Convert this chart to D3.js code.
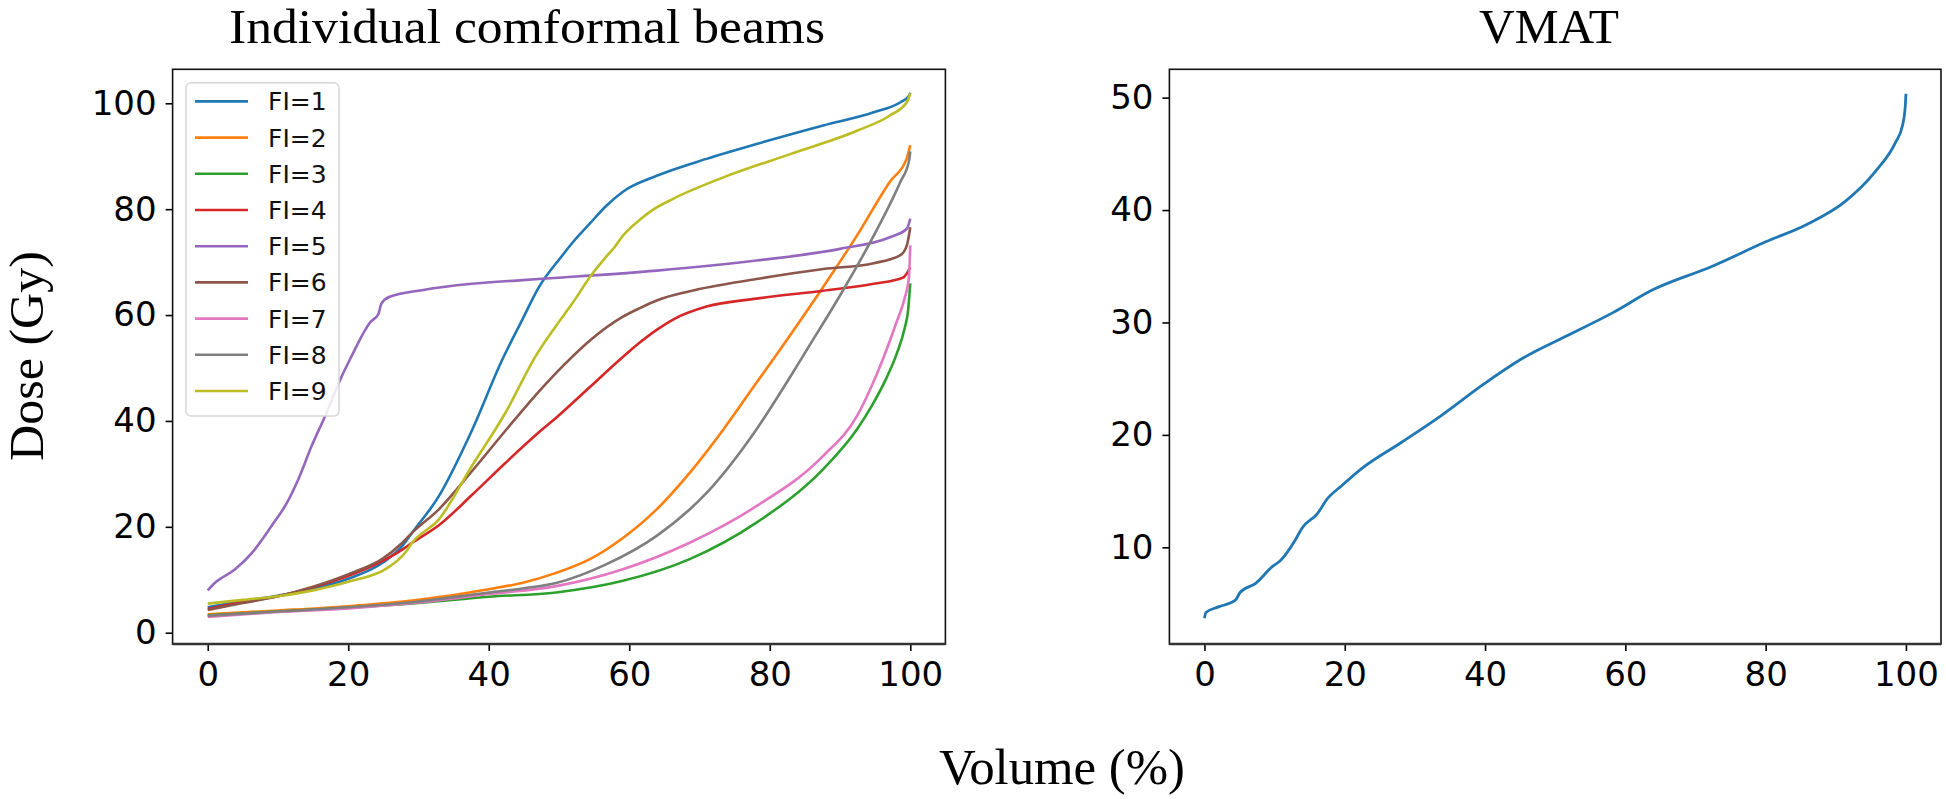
<!DOCTYPE html>
<html>
<head>
<meta charset="utf-8">
<script src="https://cdn.jsdelivr.net/npm/d3@7"></script>
<style>
  html, body { margin: 0; padding: 0; background: #fff; }
  svg { display: block; }
</style>
</head>
<body>
<script>
// ---------------- DATA ----------------
const seriesNames = ["FI=1","FI=2","FI=3","FI=4","FI=5","FI=6","FI=7","FI=8","FI=9"];
const xTicks = [0,20,40,60,80,100];
const yTicksLeft = [0,20,40,60,80,100];
const yTicksRight = [10,20,30,40,50];

// [volume %, dose Gy]
const fi1 = [[0,4.8],[5,6.0],[10,7.0],[15,8.3],[20,10.2],[25,13.3],[27.7,16.4],[29.1,18.9],[32.9,25.8],[37.6,38.2],[41.9,51.5],[44.8,59.2],[47.1,65.2],[50.5,71.3],[52,73.8],[54.4,77.3],[56.7,80.6],[59.1,83.3],[63.9,86.3],[71,89.5],[78.1,92.3],[87.6,95.8],[94.8,98.3],[98.6,100.2],[99.8,101.4],[100,102]];
const fi2 = [[0,3.5],[10,4.2],[20,5.0],[30,6.2],[40,8.2],[45,9.5],[49.6,11.3],[54.4,13.9],[59.1,17.9],[63.9,23.3],[68.6,30.2],[73.4,38.4],[78.1,47.2],[81,52.6],[87.6,65.3],[92.4,75],[97.1,85.2],[99.5,89.6],[100,92.1]];
const fi3 = [[0,3.3],[10,4.0],[20,4.7],[30,5.6],[40,6.8],[49.6,7.6],[59.1,9.8],[68.6,13.9],[78.1,20.8],[87.6,30.9],[92.4,38.4],[94.5,42.8],[96.5,47.8],[98.1,52.8],[99.2,57.5],[99.7,61],[100,66]];
const fi4 = [[0,4.5],[5,5.8],[10,6.9],[15,8.6],[20.5,11.0],[24.8,13.5],[27.7,15.7],[29.1,17.0],[32.9,20.3],[37.6,26.0],[42.4,32.1],[47.1,37.8],[49.6,40.6],[54.4,46.4],[58.6,51.5],[61.5,54.8],[63.9,57.2],[66.3,59.2],[71,61.6],[78.1,63.1],[87.6,64.6],[94.8,65.9],[99,67.1],[100,69]];
const fi5 = [[0,8.0],[1,9.4],[3.9,12.0],[6.3,15.1],[9.1,20.2],[11.3,24.6],[12.9,29],[14.8,35.3],[16.7,40.9],[19.1,48.5],[20.5,52.3],[22.2,56.7],[23.1,58.6],[24.3,60.2],[24.7,62.1],[25.8,63.4],[30.5,64.7],[37.6,65.9],[44.8,66.6],[50.5,67.1],[63.9,68.4],[78.1,70.3],[90,72.5],[97.1,74.7],[99.5,76.3],[100,78.2]];
const fi6 = [[0,4.3],[5,5.6],[10,6.9],[15,8.7],[20.5,11.3],[24.8,13.9],[27.7,17.0],[29.1,18.9],[32.9,23.3],[37.6,30.5],[42.4,38.2],[47.1,45.5],[50.5,50.3],[54.4,55.2],[59.1,59.7],[61.5,61.3],[64,62.8],[68.6,64.5],[78.1,66.8],[87.6,68.7],[94.8,69.8],[98.6,71.3],[99.5,73.1],[100,76.6]];
const fi7 = [[0,3.0],[10,3.9],[20,4.6],[30,5.7],[40,7.3],[49.6,8.8],[59.1,12.0],[68.6,17.0],[78.1,23.9],[87.6,33.4],[92.4,40.9],[94.3,46.0],[96.2,52.0],[98,58.5],[99.2,63.2],[99.8,67],[100,73.2]];
const fi8 = [[0,3.2],[10,4.0],[20,4.8],[30,5.9],[40,7.6],[45,8.4],[49.6,9.4],[56.7,12.9],[63.9,18.3],[71,26.4],[78.1,38.4],[82.9,48.3],[85.3,53.5],[90,63.7],[94.8,75],[98.6,85.2],[99.8,89],[100,90.9]];
const fi9 = [[0,5.5],[5,6.2],[10,6.9],[15,8.0],[20.5,9.8],[25.3,12.0],[28.1,15.1],[29.1,17.0],[32.9,21.4],[37.6,31.5],[42.4,41.6],[46.7,52.3],[49.6,58],[52,62.4],[54.4,67.2],[56.7,71.0],[57.9,72.8],[59.1,75.0],[61.5,78.0],[63.5,80.0],[66.3,82.0],[73.4,86],[82.9,90.4],[92.4,94.8],[97.1,97.7],[99.5,100.2],[100,101.9]];
const vmat = [[0,3.7],[0.2,4.2],[2,4.7],[4.4,5.3],[5.1,6.0],[7.3,6.8],[9.7,8.3],[10.8,8.8],[12.9,10.6],[13.9,11.7],[16.1,13.0],[17.5,14.3],[19.6,15.5],[22.4,17.0],[28,19.3],[33.7,21.7],[40,24.6],[45.6,26.9],[51.3,28.7],[58.3,30.9],[63.9,32.9],[72.4,35.0],[80.1,37.2],[85.8,38.7],[91.4,40.8],[95.6,43.4],[98.5,46.0],[99.5,47.5],[99.9,49.2],[100,50.35]];

const colors = ["#1f77b4","#ff7f0e","#2ca02c","#d62728","#9467bd","#8c564b","#e377c2","#7f7f7f","#bcbd22"];
const allSeries = [fi1,fi2,fi3,fi4,fi5,fi6,fi7,fi8,fi9];

// ---------------- LAYOUT ----------------
const W = 1946, H = 799;
const svg = d3.select("body").append("svg").attr("width", W).attr("height", H);

const L = {x0:172.6, x1:945.4, y0:69.3, y1:644};
const R = {x0:1169.4, x1:1941, y0:69.3, y1:644};

const xL = d3.scaleLinear().domain([-5,105]).range([L.x0, L.x1]);
const yL = d3.scaleLinear().domain([-2.13,106.42]).range([L.y1, L.y0]);
const xR = d3.scaleLinear().domain([-5,105]).range([R.x0, R.x1]);
const yR = d3.scaleLinear().domain([1.40,52.52]).range([R.y1, R.y0]);

const tickFont = "'DejaVu Sans', sans-serif";
const serif = "'Liberation Serif', 'Times New Roman', serif";

function drawAxes(box, xs, ys, yt) {
  const gx = svg.append("g").attr("transform", `translate(0,${box.y1})`)
    .call(d3.axisBottom(xs).tickValues(xTicks).tickSize(7).tickPadding(11).tickFormat(d3.format("d")));
  const gy = svg.append("g").attr("transform", `translate(${box.x0},0)`)
    .call(d3.axisLeft(ys).tickValues(yt).tickSize(7).tickPadding(9).tickFormat(d3.format("d")));
  [gx, gy].forEach(g => {
    g.select(".domain").remove();
    g.selectAll(".tick line").attr("stroke", "#000").attr("stroke-width", 1.6);
    g.selectAll(".tick text").attr("fill", "#000").style("font-family", tickFont).style("font-size", "34px");
  });
}

function drawFrame(box) {
  svg.append("rect").attr("x", box.x0).attr("y", box.y0)
    .attr("width", box.x1 - box.x0).attr("height", box.y1 - box.y0)
    .attr("fill", "none").attr("stroke", "#111").attr("stroke-width", 1.6);
  svg.append("line").attr("x1", box.x0).attr("x2", box.x1).attr("y1", box.y1).attr("y2", box.y1)
    .attr("stroke", "#333").attr("stroke-width", 2.6);
}

// ---------------- LEFT PANEL ----------------
drawAxes(L, xL, yL, yTicksLeft);
const lineL = d3.line().x(d => xL(d[0])).y(d => yL(d[1])).curve(d3.curveMonotoneX);
svg.append("g").selectAll("path").data(allSeries).join("path")
  .attr("d", lineL).attr("fill", "none")
  .attr("stroke", (d,i) => colors[i]).attr("stroke-width", 2.6)
  .attr("stroke-linejoin", "round");
drawFrame(L);

// legend
const leg = svg.append("g");
leg.append("rect").attr("x", 186).attr("y", 82.7).attr("width", 153).attr("height", 333.3)
  .attr("rx", 5).attr("fill", "#fff").attr("fill-opacity", 0.85)
  .attr("stroke", "#d6d6d6").attr("stroke-width", 1.5);
const rowY = i => 101.4 + i * 36.2;
leg.selectAll("line.h").data(seriesNames).join("line").attr("class","h")
  .attr("x1", 195).attr("x2", 248).attr("y1", (d,i) => rowY(i)).attr("y2", (d,i) => rowY(i))
  .attr("stroke", (d,i) => colors[i]).attr("stroke-width", 2.6);
leg.selectAll("text").data(seriesNames).join("text")
  .attr("x", 268).attr("y", (d,i) => rowY(i)).attr("dy", "0.36em")
  .style("font-family", tickFont).style("font-size", "25px").attr("fill", "#111")
  .text(d => d);

// ---------------- RIGHT PANEL ----------------
drawAxes(R, xR, yR, yTicksRight);
const lineR = d3.line().x(d => xR(d[0])).y(d => yR(d[1])).curve(d3.curveMonotoneX);
svg.append("path").datum(vmat).attr("d", lineR).attr("fill", "none")
  .attr("stroke", colors[0]).attr("stroke-width", 2.8).attr("stroke-linejoin", "round");
drawFrame(R);

// ---------------- TEXT ----------------
svg.append("text").attr("x", 527).attr("y", 43).attr("text-anchor", "middle")
  .style("font-family", serif).style("font-size", "48px")
  .attr("textLength", 596).attr("lengthAdjust", "spacingAndGlyphs")
  .text("Individual comformal beams");
svg.append("text").attr("x", 1549).attr("y", 43).attr("text-anchor", "middle")
  .style("font-family", serif).style("font-size", "48px")
  .attr("textLength", 140).attr("lengthAdjust", "spacingAndGlyphs")
  .text("VMAT");
svg.append("text").attr("transform", "translate(43,356) rotate(-90)").attr("text-anchor", "middle")
  .style("font-family", serif).style("font-size", "48px")
  .attr("textLength", 210).attr("lengthAdjust", "spacingAndGlyphs")
  .text("Dose (Gy)");
svg.append("text").attr("x", 1062).attr("y", 784).attr("text-anchor", "middle")
  .style("font-family", serif).style("font-size", "50px")
  .attr("textLength", 246).attr("lengthAdjust", "spacingAndGlyphs")
  .text("Volume (%)");
</script>
</body>
</html>
